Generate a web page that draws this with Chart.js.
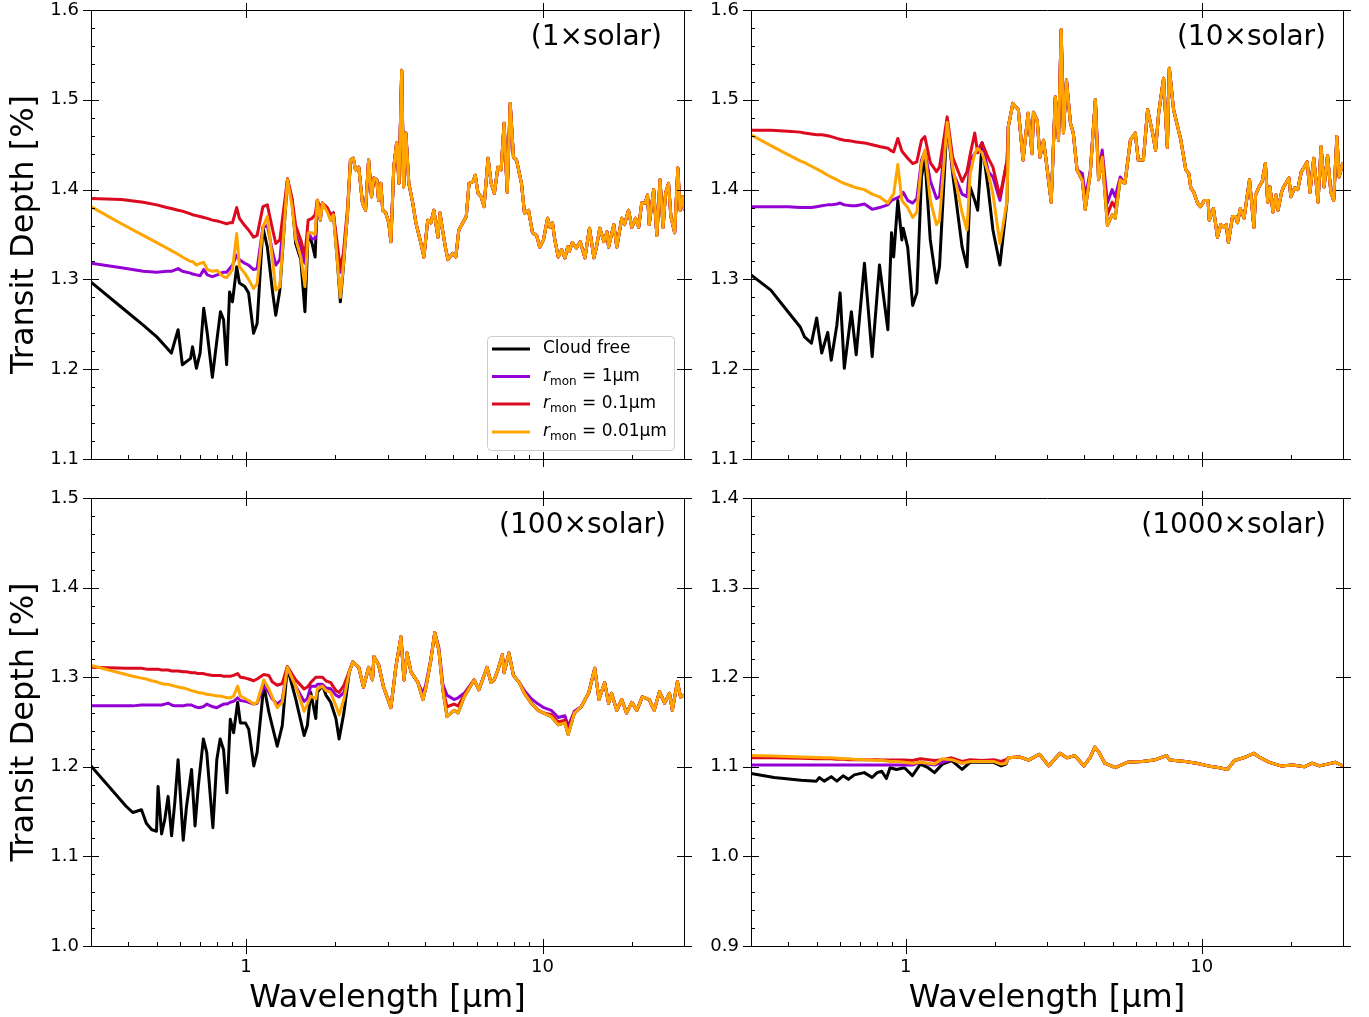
<!DOCTYPE html>
<html>
<head>
<meta charset="utf-8">
<script src="https://cdn.jsdelivr.net/npm/chart.js@4"></script>
<style>
  html, body { margin: 0; background: #fff; }
  #wrap { position: relative; width: 1369px; height: 1017px; }
  #wrap canvas { position: absolute; left: 0; top: 0; }
</style>
</head>
<body>
<div id="wrap">
  <canvas id="c1" width="1369" height="1017"></canvas>
  <canvas id="c2" width="1369" height="1017"></canvas>
  <canvas id="c3" width="1369" height="1017"></canvas>
  <canvas id="c4" width="1369" height="1017"></canvas>
</div>
<script>
// ---- axis ticks ----
const xMajor = [1, 10];
const xMajorLabels = ['1', '10'];
const xMinor = [0.4, 0.5, 0.6, 0.7, 0.8, 0.9, 2, 3, 4, 5, 6, 7, 8, 9, 20];
const yTicksTop = [1.1, 1.2, 1.3, 1.4, 1.5, 1.6];
const yTicks100 = [1.0, 1.1, 1.2, 1.3, 1.4, 1.5];
const yTicks1000 = [0.9, 1.0, 1.1, 1.2, 1.3, 1.4];

const seriesLabels = ['Cloud free', 'r_mon = 1µm', 'r_mon = 0.1µm', 'r_mon = 0.01µm'];
const panelNames = ['(1×solar)', '(10×solar)', '(100×solar)', '(1000×solar)'];

// ---- 1x solar ----
const p1Wave = [0.30,0.38,0.45,0.50,0.54,0.56,0.59,0.61,0.65,0.66,0.68,0.70,0.72,0.74,0.77,0.80,0.82,0.84,0.86,0.88,
  0.90,0.93,0.95,0.99,1.02,1.06,1.09,1.14,1.18,1.23,1.26,1.30,1.38,1.43,1.47,1.53,1.58,1.62,1.67,1.71,
  1.74,1.78,1.81,1.88,1.93,1.97,2.03,2.08,2.13,2.20];
const p1CloudFree = [1.297,1.269,1.249,1.236,1.224,1.218,1.244,1.205,1.212,1.225,1.201,1.218,1.268,1.240,1.191,1.236,1.264,1.255,1.205,1.286,
  1.275,1.314,1.296,1.292,1.285,1.240,1.251,1.358,1.336,1.285,1.260,1.288,1.411,1.388,1.340,1.322,1.264,1.352,1.340,1.325,
  1.388,1.366,1.385,1.377,1.366,1.374,1.322,1.275,1.314,1.374];
const p1R1 = [1.318,1.313,1.309,1.308,1.309,1.309,1.312,1.309,1.307,1.306,1.305,1.304,1.311,1.305,1.303,1.305,1.307,1.308,1.308,1.312,
  1.316,1.327,1.322,1.318,1.316,1.311,1.312,1.358,1.360,1.330,1.316,1.322,1.411,1.385,1.350,1.335,1.318,1.352,1.345,1.345,
  1.388,1.366,1.385,1.377,1.368,1.374,1.330,1.308,1.320,1.374];
const p1R01 = [1.390,1.389,1.386,1.383,1.380,1.379,1.377,1.376,1.373,1.372,1.371,1.370,1.369,1.368,1.366,1.365,1.364,1.363,1.362,1.363,
  1.363,1.380,1.368,1.360,1.355,1.347,1.349,1.381,1.383,1.355,1.340,1.344,1.412,1.390,1.360,1.344,1.326,1.366,1.368,1.372,
  1.388,1.380,1.385,1.380,1.372,1.374,1.340,1.311,1.330,1.380];
const p1R001 = [1.381,1.362,1.349,1.341,1.335,1.332,1.328,1.325,1.320,1.320,1.316,1.318,1.319,1.311,1.309,1.310,1.306,1.303,1.302,1.306,
  1.311,1.351,1.314,1.307,1.300,1.290,1.295,1.358,1.370,1.320,1.288,1.292,1.411,1.381,1.345,1.325,1.292,1.352,1.352,1.350,
  1.388,1.366,1.385,1.375,1.366,1.372,1.322,1.280,1.316,1.374];
// all four curves overlap beyond ~2.2 µm
const p1Common = [[2.25,1.433],[2.30,1.435],[2.34,1.422],[2.40,1.425],[2.47,1.385],[2.53,1.377],[2.59,1.433],[2.65,1.392],
  [2.70,1.413],[2.76,1.411],[2.80,1.388],[2.85,1.407],[2.89,1.377],[2.96,1.374],[3.03,1.363],[3.08,1.342],[3.15,1.425],
  [3.22,1.452],[3.28,1.407],[3.35,1.533],[3.40,1.403],[3.46,1.463],[3.54,1.407],[3.65,1.385],[3.74,1.363],[3.89,1.340],
  [3.98,1.325],[4.10,1.366],[4.20,1.363],[4.30,1.377],[4.44,1.347],[4.51,1.374],[4.60,1.355],[4.72,1.333],[4.80,1.322],
  [4.98,1.329],[5.10,1.325],[5.22,1.355],[5.53,1.370],[5.65,1.407],[5.83,1.409],[5.93,1.416],[6.06,1.396],[6.21,1.392],
  [6.35,1.381],[6.55,1.435],[6.71,1.407],[6.88,1.396],[7.07,1.425],[7.25,1.422],[7.42,1.474],[7.60,1.397],[7.78,1.496],
  [7.98,1.436],[8.17,1.433],[8.49,1.407],[8.69,1.374],[8.97,1.377],[9.25,1.352],[9.55,1.349],[9.78,1.336],[10.07,1.344],
  [10.4,1.368],[10.6,1.358],[10.8,1.363],[11.0,1.344],[11.3,1.325],[11.6,1.333],[11.9,1.324],[12.15,1.336],[12.3,1.331],
  [12.6,1.341],[13.0,1.335],[13.4,1.342],[13.9,1.324],[14.4,1.357],[14.9,1.324],[15.2,1.336],[15.6,1.357],[16.1,1.342],
  [16.5,1.353],[16.7,1.336],[17.4,1.361],[17.8,1.336],[18.5,1.368],[18.9,1.361],[19.5,1.377],[20.0,1.358],[20.6,1.368],
  [21.1,1.358],[21.6,1.385],[22.2,1.385],[22.6,1.394],[22.9,1.361],[23.7,1.400],[24.3,1.349],[24.9,1.411],[25.5,1.358],
  [26.0,1.396],[26.6,1.407],[27.1,1.370],[27.9,1.352],[28.6,1.424],[29.1,1.377],[29.7,1.392],[30.1,1.377]];

// ---- 10x solar ----
const p2Wave = [0.30,0.35,0.40,0.44,0.455,0.48,0.50,0.52,0.545,0.56,0.585,0.60,0.62,0.655,0.68,0.725,0.77,0.815,0.87,0.895,
  0.91,0.94,0.97,0.98,1.015,1.055,1.09,1.13,1.16,1.21,1.27,1.30,1.38,1.44,1.55,1.61,1.65,1.71,1.75,1.81,1.90,1.97,2.08,2.20];
const p2CloudFree = [1.305,1.288,1.264,1.247,1.236,1.229,1.257,1.218,1.241,1.210,1.249,1.285,1.201,1.264,1.216,1.318,1.214,1.316,1.244,1.352,
  1.325,1.388,1.344,1.357,1.336,1.271,1.285,1.414,1.436,1.344,1.296,1.314,1.477,1.418,1.336,1.314,1.403,1.388,1.377,1.452,1.400,1.355,1.316,1.388];
const p2R1 = [1.381,1.381,1.381,1.380,1.380,1.380,1.381,1.382,1.383,1.383,1.384,1.385,1.383,1.382,1.382,1.384,1.378,1.380,1.383,1.388,
  1.389,1.391,1.394,1.397,1.388,1.385,1.390,1.433,1.442,1.410,1.390,1.392,1.477,1.420,1.395,1.392,1.433,1.440,1.444,1.452,1.420,1.414,1.388,1.433];
const p2R01 = [1.466,1.466,1.465,1.464,1.463,1.462,1.461,1.461,1.460,1.459,1.457,1.456,1.455,1.454,1.453,1.452,1.450,1.448,1.446,1.443,
  1.442,1.457,1.443,1.441,1.435,1.429,1.431,1.455,1.459,1.430,1.420,1.425,1.481,1.436,1.409,1.420,1.439,1.463,1.441,1.452,1.435,1.425,1.392,1.433];
const p2R001 = [1.461,1.449,1.439,1.432,1.430,1.426,1.423,1.420,1.416,1.414,1.411,1.409,1.407,1.404,1.402,1.400,1.395,1.392,1.385,1.392,
  1.395,1.428,1.388,1.386,1.380,1.369,1.375,1.429,1.444,1.388,1.361,1.366,1.475,1.425,1.374,1.355,1.418,1.440,1.446,1.441,1.418,1.395,1.340,1.388];
const p2Common = [[2.22,1.470],[2.30,1.496],[2.40,1.489],[2.49,1.433],[2.59,1.485],[2.67,1.440],[2.70,1.486],[2.78,1.477],
  [2.84,1.436],[2.92,1.455],[2.97,1.436],[3.10,1.386],[3.20,1.503],[3.28,1.455],[3.35,1.578],[3.41,1.463],[3.49,1.522],
  [3.60,1.474],[3.68,1.463],[3.79,1.422],[3.95,1.410],[4.04,1.378],[4.20,1.418],[4.37,1.500],[4.48,1.411],[4.61,1.436],
  [4.80,1.360],[4.98,1.372],[5.10,1.368],[5.30,1.411],[5.50,1.407],[5.74,1.455],[5.96,1.463],[6.10,1.433],[6.35,1.433],
  [6.56,1.489],[6.82,1.463],[6.98,1.444],[7.15,1.485],[7.43,1.524],[7.65,1.447],[7.77,1.535],[8.03,1.489],[8.50,1.455],
  [8.83,1.422],[9.04,1.418],[9.18,1.402],[9.40,1.397],[9.67,1.385],[9.90,1.381],[10.2,1.388],[10.5,1.388],[10.6,1.366],
  [10.95,1.379],[11.3,1.347],[11.6,1.361],[11.9,1.358],[12.1,1.361],[12.3,1.341],[12.7,1.370],[13.0,1.370],[13.2,1.363],
  [13.5,1.379],[13.9,1.368],[14.1,1.383],[14.5,1.411],[15.0,1.358],[15.2,1.394],[15.6,1.403],[16.0,1.409],[16.4,1.429],
  [16.7,1.386],[17.0,1.403],[17.4,1.375],[17.8,1.394],[18.1,1.377],[18.6,1.397],[18.9,1.403],[19.7,1.413],[20.0,1.392],
  [20.6,1.402],[21.1,1.400],[21.7,1.420],[22.2,1.425],[22.7,1.431],[23.2,1.397],[23.9,1.435],[24.7,1.386],[25.3,1.448],
  [25.9,1.403],[26.6,1.438],[27.3,1.397],[27.9,1.388],[28.6,1.459],[29.1,1.414],[29.9,1.429],[30.0,1.425]];
// spots where the 1 µm / 0.1 µm curves sit above the rest
const p2R1Patch = [[3.95,1.418],[4.04,1.392],[4.20,1.420],[4.37,1.500],[4.48,1.420],[4.61,1.444],[4.80,1.385],[4.98,1.400],[5.10,1.392],[5.30,1.414]];
const p2R01Patch = [[4.61,1.438],[4.80,1.372],[4.98,1.386],[5.10,1.380],[5.30,1.411]];

// ---- 100x solar ----
const p3Wave = [0.30,0.394,0.415,0.444,0.461,0.48,0.499,0.505,0.519,0.532,0.546,0.561,0.575,0.59,0.614,0.63,0.655,0.673,0.69,0.718,
  0.737,0.773,0.797,0.818,0.84,0.862,0.885,0.908,0.937,0.957,0.995,1.021,1.062,1.09,1.148,1.194,1.225,1.274,1.325,1.378,
  1.47,1.57,1.61,1.653,1.719,1.74,1.81,1.86,1.93,2.01,2.06,2.14,2.23,2.29];
const p3CloudFree = [1.201,1.156,1.149,1.152,1.137,1.130,1.128,1.178,1.125,1.141,1.167,1.123,1.160,1.208,1.118,1.156,1.197,1.134,1.178,1.231,
  1.216,1.132,1.208,1.231,1.219,1.171,1.253,1.238,1.272,1.249,1.249,1.242,1.201,1.216,1.291,1.261,1.246,1.223,1.246,1.311,
  1.276,1.235,1.246,1.283,1.254,1.283,1.291,1.280,1.272,1.254,1.231,1.261,1.306,1.317];
const p3R1 = [1.268,1.268,1.268,1.269,1.269,1.269,1.269,1.269,1.269,1.270,1.271,1.269,1.268,1.268,1.268,1.269,1.269,1.267,1.266,1.267,
  1.270,1.267,1.266,1.268,1.270,1.270,1.272,1.273,1.277,1.274,1.273,1.272,1.270,1.271,1.290,1.283,1.276,1.270,1.275,1.311,
  1.290,1.273,1.276,1.290,1.290,1.292,1.292,1.288,1.287,1.280,1.278,1.283,1.306,1.317];
const p3R01 = [1.311,1.310,1.310,1.310,1.309,1.309,1.309,1.309,1.308,1.308,1.308,1.307,1.307,1.307,1.306,1.306,1.305,1.305,1.304,1.304,
  1.303,1.302,1.302,1.302,1.301,1.301,1.301,1.302,1.304,1.300,1.299,1.298,1.296,1.298,1.303,1.302,1.295,1.291,1.293,1.312,
  1.297,1.287,1.289,1.294,1.300,1.300,1.300,1.296,1.294,1.285,1.283,1.291,1.307,1.317];
const p3R001 = [1.313,1.303,1.301,1.299,1.298,1.296,1.295,1.294,1.293,1.292,1.292,1.291,1.290,1.289,1.288,1.287,1.285,1.284,1.283,1.282,
  1.281,1.280,1.279,1.279,1.278,1.277,1.277,1.279,1.290,1.279,1.276,1.274,1.270,1.272,1.297,1.287,1.278,1.266,1.272,1.311,
  1.290,1.262,1.270,1.279,1.276,1.287,1.290,1.285,1.283,1.268,1.258,1.276,1.306,1.317];
const p3Common = [[2.40,1.311],[2.49,1.289],[2.59,1.311],[2.67,1.297],[2.70,1.323],[2.80,1.314],[2.91,1.289],[3.08,1.266],
  [3.20,1.311],[3.33,1.345],[3.41,1.297],[3.49,1.327],[3.60,1.306],[3.80,1.294],[3.95,1.275],[4.04,1.288],[4.20,1.319],
  [4.33,1.350],[4.47,1.330],[4.61,1.286],[4.76,1.256],[5.03,1.263],[5.19,1.260],[5.44,1.278],[5.88,1.297],[6.10,1.286],
  [6.50,1.311],[6.70,1.294],[6.87,1.297],[7.07,1.308],[7.32,1.325],[7.42,1.305],[7.70,1.327],[7.98,1.302],[8.35,1.294],
  [8.69,1.282],[9.16,1.271],[9.67,1.263],[10.1,1.260],[10.7,1.256],[11.3,1.247],[11.9,1.249],[12.2,1.236],[12.8,1.260],
  [13.5,1.267],[14.3,1.282],[15.0,1.310],[15.5,1.275],[16.2,1.294],[16.7,1.271],[17.1,1.282],[17.8,1.263],[18.5,1.275],
  [19.2,1.260],[20.0,1.272],[20.8,1.263],[21.7,1.278],[22.9,1.275],[23.8,1.263],[24.8,1.284],[25.8,1.271],[26.8,1.282],
  [27.4,1.263],[28.5,1.295],[29.2,1.278],[30.0,1.280]];
const p3R1PatchA = [[3.95,1.282],[4.04,1.292],[4.20,1.320],[4.33,1.350],[4.47,1.333],[4.61,1.292],[4.76,1.280],[5.03,1.275],[5.19,1.277],[5.44,1.282]];
const p3R1PatchB = [[8.69,1.285],[9.16,1.276],[9.67,1.270],[10.1,1.266],[10.7,1.263],[11.3,1.255],[11.9,1.257],[12.2,1.245],[12.8,1.262]];
const p3R01PatchA = [[4.61,1.288],[4.76,1.267],[5.03,1.270],[5.19,1.268],[5.44,1.280]];
const p3R01PatchB = [[10.7,1.258],[11.3,1.250],[11.9,1.252],[12.2,1.240]];

// ---- 1000x solar ----
const p4Wave = [0.30,0.359,0.443,0.499,0.51,0.53,0.56,0.585,0.614,0.64,0.67,0.724,0.77,0.80,0.83,0.86,0.885,0.93,0.99,1.053,
  1.12,1.19,1.25,1.33,1.43,1.55,1.65,1.81,1.98,2.10,2.18];
const p4CloudFree = [1.0925,1.088,1.085,1.084,1.088,1.084,1.089,1.084,1.090,1.086,1.091,1.0935,1.088,1.0935,1.095,1.087,1.099,1.097,1.099,1.090,
  1.103,1.099,1.0935,1.103,1.107,1.097,1.105,1.105,1.105,1.101,1.103];
const p4R1 = [1.102,1.102,1.102,1.102,1.102,1.102,1.102,1.102,1.102,1.102,1.102,1.102,1.102,1.102,1.102,1.102,1.102,1.102,1.102,1.102,
  1.105,1.103,1.102,1.105,1.108,1.104,1.106,1.106,1.106,1.103,1.104];
const p4R01 = [1.110,1.110,1.1095,1.109,1.109,1.109,1.109,1.1085,1.1085,1.108,1.108,1.108,1.108,1.108,1.1075,1.1075,1.1075,1.1075,1.1075,1.107,
  1.109,1.108,1.107,1.108,1.110,1.106,1.108,1.107,1.108,1.106,1.108];
const p4R001 = [1.1125,1.112,1.111,1.1105,1.1105,1.110,1.110,1.1095,1.109,1.109,1.1085,1.108,1.1075,1.107,1.107,1.1065,1.106,1.106,1.105,1.104,
  1.105,1.104,1.103,1.109,1.108,1.104,1.106,1.106,1.106,1.103,1.104];
const p4Common = [[2.22,1.110],[2.42,1.111],[2.60,1.1075],[2.83,1.114],[3.04,1.101],[3.23,1.111],[3.32,1.115],[3.50,1.110],
  [3.72,1.1125],[4.00,1.101],[4.20,1.1105],[4.35,1.122],[4.50,1.116],[4.70,1.104],[5.10,1.099],[5.60,1.105],[6.30,1.106],
  [6.90,1.1075],[7.60,1.1125],[7.80,1.1075],[8.80,1.106],[9.60,1.104],[10.5,1.101],[11.5,1.099],[12.2,1.097],[12.9,1.107],
  [14.1,1.111],[15.0,1.115],[15.7,1.1105],[16.9,1.105],[18.5,1.101],[20.3,1.102],[22.2,1.100],[23.6,1.104],[25.0,1.101],
  [26.6,1.103],[28.3,1.105],[30.0,1.101]];

// ---- helpers to assemble {x,y} series ----
function pairs(w, v) { return w.map((x, i) => ({ x: x, y: v[i] })); }
function tail(list) { return list.map(p => ({ x: p[0], y: p[1] })); }
function patched(points, patches) {
  let out = points;
  patches.forEach(seg => {
    const lo = seg[0][0], hi = seg[seg.length - 1][0];
    out = out.filter(p => p.x < lo || p.x > hi).concat(tail(seg));
  });
  return out.sort((a, b) => a.x - b.x);
}

const colors = ['#000000', '#9400d3', '#dc0a1e', '#ffa500'];
const FONT = '"DejaVu Sans", "Liberation Sans", sans-serif';

const mplAxes = {
  id: 'mplAxes',
  afterDatasetsDraw(chart, args, o) {
    const ctx = chart.ctx, a = chart.chartArea;
    const xs = chart.scales.x, ys = chart.scales.y;
    const L = a.left, R = a.right, T = a.top, B = a.bottom;
    const sx = v => Math.round(xs.getPixelForValue(v)) + 0.5;
    const sy = v => Math.round(ys.getPixelForValue(v)) + 0.5;
    ctx.save();
    ctx.strokeStyle = '#000';
    ctx.lineWidth = 1;
    ctx.beginPath();
    ctx.rect(L + 0.5, T + 0.5, R - L, B - T);
    const seg = (x1, y1, x2, y2) => { ctx.moveTo(x1, y1); ctx.lineTo(x2, y2); };
    xMajor.forEach(v => { const x = sx(v); seg(x, B - 7, x, B + 8); seg(x, T - 7, x, T + 8); });
    xMinor.forEach(v => { const x = sx(v); seg(x, B - 4, x, B); });
    o.yTicks.forEach(v => { const y = sy(v); seg(L - 8, y, L + 8, y); seg(R - 7, y, R + 8, y); });
    const y0 = o.yTicks[0], y1 = o.yTicks[o.yTicks.length - 1];
    for (let k = 1; k < Math.round((y1 - y0) / 0.02); k++) {
      if (k % 5 === 0) continue;
      const y = sy(y0 + k * 0.02);
      seg(L, y, L + 4, y);
    }
    ctx.stroke();

    ctx.fillStyle = '#000';
    ctx.font = '18px ' + FONT;
    ctx.textAlign = 'right';
    ctx.textBaseline = 'middle';
    o.yTicks.forEach(v => ctx.fillText(v.toFixed(1), L - 12, ys.getPixelForValue(v)));
    if (o.xLabels) {
      ctx.textAlign = 'center';
      xMajor.forEach((v, i) => ctx.fillText(xMajorLabels[i], xs.getPixelForValue(v), B + 21));
      ctx.font = '32px ' + FONT;
      ctx.fillText('Wavelength [µm]', (L + R) / 2, B + 53);
    }
    if (o.yTitle) {
      ctx.save();
      ctx.translate(25, (T + B) / 2);
      ctx.rotate(-Math.PI / 2);
      ctx.textAlign = 'center';
      ctx.font = '32px ' + FONT;
      ctx.fillText('Transit Depth [%]', 0, 0);
      ctx.restore();
    }
    ctx.font = '28px ' + FONT;
    ctx.textAlign = 'right';
    ctx.fillText(o.name, o.nameRight, T + 28);

    if (o.legend) {
      ctx.beginPath();
      ctx.fillStyle = 'rgba(255,255,255,0.8)';
      ctx.strokeStyle = '#cccccc';
      ctx.roundRect(487.5, 336.5, 187, 114, 4);
      ctx.fill();
      ctx.stroke();
      const rows = [349, 376.5, 404, 432];
      chart.data.datasets.forEach((ds, i) => {
        ctx.strokeStyle = ds.borderColor;
        ctx.lineWidth = 3;
        ctx.beginPath();
        ctx.moveTo(492, rows[i]);
        ctx.lineTo(530, rows[i]);
        ctx.stroke();
        ctx.fillStyle = '#000';
        ctx.textAlign = 'left';
        let x = 543;
        if (ds.label.startsWith('r_mon')) {
          ctx.font = 'italic 17px ' + FONT;
          ctx.fillText('r', x, rows[i]);
          x += ctx.measureText('r').width;
          ctx.font = '12px ' + FONT;
          ctx.fillText('mon', x, rows[i] + 5);
          x += ctx.measureText('mon').width;
          ctx.font = '17px ' + FONT;
          ctx.fillText(ds.label.slice(5), x, rows[i]);
        } else {
          ctx.font = '17px ' + FONT;
          ctx.fillText(ds.label, x, rows[i]);
        }
      });
    }
    ctx.restore();
  }
};

const panels = [
  { id: 'c1', area: [91, 10, 684, 459], yTicks: yTicksTop, name: panelNames[0], nameRight: 662,
    yTitle: true, xLabels: false, legend: true,
    series: [
      pairs(p1Wave, p1CloudFree).concat(tail(p1Common)),
      pairs(p1Wave, p1R1).concat(tail(p1Common)),
      pairs(p1Wave, p1R01).concat(tail(p1Common)),
      pairs(p1Wave, p1R001).concat(tail(p1Common))
    ] },
  { id: 'c2', area: [751, 10, 1343, 459], yTicks: yTicksTop, name: panelNames[1], nameRight: 1326,
    yTitle: false, xLabels: false, legend: false,
    series: [
      pairs(p2Wave, p2CloudFree).concat(tail(p2Common)),
      patched(pairs(p2Wave, p2R1).concat(tail(p2Common)), [p2R1Patch]),
      patched(pairs(p2Wave, p2R01).concat(tail(p2Common)), [p2R01Patch]),
      pairs(p2Wave, p2R001).concat(tail(p2Common))
    ] },
  { id: 'c3', area: [91, 498, 684, 946], yTicks: yTicks100, name: panelNames[2], nameRight: 666,
    yTitle: true, xLabels: true, legend: false,
    series: [
      pairs(p3Wave, p3CloudFree).concat(tail(p3Common)),
      patched(pairs(p3Wave, p3R1).concat(tail(p3Common)), [p3R1PatchA, p3R1PatchB]),
      patched(pairs(p3Wave, p3R01).concat(tail(p3Common)), [p3R01PatchA, p3R01PatchB]),
      pairs(p3Wave, p3R001).concat(tail(p3Common))
    ] },
  { id: 'c4', area: [751, 498, 1343, 946], yTicks: yTicks1000, name: panelNames[3], nameRight: 1326,
    yTitle: false, xLabels: true, legend: false,
    series: [
      pairs(p4Wave, p4CloudFree).concat(tail(p4Common)),
      pairs(p4Wave, p4R1).concat(tail(p4Common)),
      pairs(p4Wave, p4R01).concat(tail(p4Common)),
      pairs(p4Wave, p4R001).concat(tail(p4Common))
    ] }
];

panels.forEach(p => {
  const [l, t, r, b] = p.area;
  new Chart(document.getElementById(p.id), {
    type: 'line',
    data: {
      datasets: p.series.map((pts, i) => ({
        label: seriesLabels[i],
        data: pts,
        borderColor: colors[i],
        borderWidth: 3,
        borderJoinStyle: 'round',
        order: 3 - i
      }))
    },
    options: {
      responsive: false,
      animation: false,
      devicePixelRatio: 1,
      layout: { padding: { left: l, top: t, right: 1369 - r, bottom: 1017 - b } },
      elements: { point: { radius: 0 }, line: { tension: 0 } },
      plugins: {
        legend: { display: false },
        tooltip: { enabled: false },
        mplAxes: p
      },
      scales: {
        x: { type: 'logarithmic', min: 0.3, max: 30, display: false },
        y: { type: 'linear', min: p.yTicks[0], max: p.yTicks[p.yTicks.length - 1], display: false }
      }
    },
    plugins: [mplAxes]
  });
});
</script>
</body>
</html>
